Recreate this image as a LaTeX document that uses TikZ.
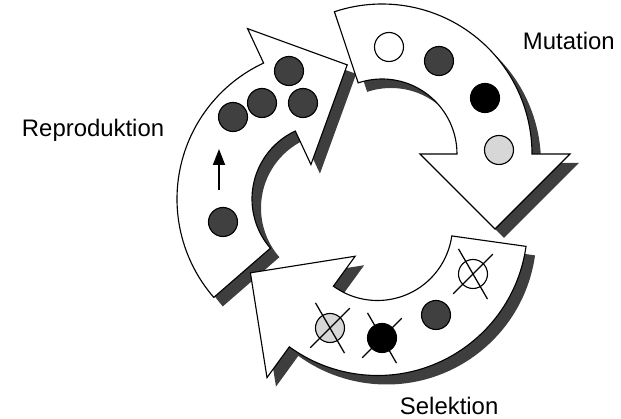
\documentclass[tikz,border=0pt]{standalone}
\usepackage{fontspec}
\setmainfont{Liberation Sans}
\usetikzlibrary{arrows.meta, calc}
\definecolor{shdgray}{RGB}{62, 62, 62}
\definecolor{dotdark}{RGB}{64, 64, 64}
\definecolor{dotlight}{RGB}{215, 215, 215}

% curved arrow of the cycle: options, centre, tail angle, head angle
\newcommand{\ringarrow}[4]{%
  \path[#1] ($(#2)+(#3:150)$) arc[start angle=#3, end angle=#4, radius=150]
    -- ($(#2)+(#4:188)$) -- ($(#2)+(#4:113)+(#4-90:75)$) -- ($(#2)+(#4:38)$)
    -- ($(#2)+(#4:75)$) arc[start angle=#4, end angle=#3, radius=75] -- cycle;}

\begin{document}
\begin{tikzpicture}[x=0.025cm, y=0.025cm,
  shd/.style={fill=shdgray, transform canvas={shift={(9,-9)}}},
  arw/.style={draw=black, fill=white, line width=0.8pt, line join=miter},
  dot/.style={circle, draw=black, line width=0.8pt, minimum size=0.725cm, inner sep=0pt},
  xln/.style={line width=0.9pt},
  lbl/.style={anchor=base west, font=\fontsize{17}{20}\selectfont}
]
  \useasboundingbox (0,0) rectangle (621,419);
  \coordinate (crep) at (327,220);
  \coordinate (cmut) at (382,265);
  \coordinate (csel) at (377.5,193.5);

  % shadows
  \ringarrow{shd}{crep}{221}{115}
  \ringarrow{shd}{cmut}{108.5}{0}
  \ringarrow{shd}{csel}{352}{234}
  % arrows
  \ringarrow{arw}{crep}{221}{115}
  \ringarrow{arw}{cmut}{108.5}{0}
  \ringarrow{arw}{csel}{352}{234}

  % Reproduktion
  \node[dot, fill=dotdark] (r1) at (289,348) {};
  \node[dot, fill=dotdark] (r2) at (262,316) {};
  \node[dot, fill=dotdark] (r3) at (303,316) {};
  \node[dot, fill=dotdark] (r4) at (233,302) {};
  \node[dot, fill=dotdark] (r5) at (223,197) {};
  \coordinate (up0) at (219,229);
  \coordinate (up1) at (219,270);
  \draw[line width=1.3pt, -{Triangle[length=4mm, width=3mm]}] (up0) -- (up1);

  % Mutation
  \node[dot, fill=white] (m1) at (389,372) {};
  \node[dot, fill=dotdark] (m2) at (439,358) {};
  \node[dot, fill=black] (m3) at (485,321) {};
  \node[dot, fill=dotlight] (m4) at (499,269) {};

  % Selektion
  \node[dot, fill=white] (s1) at (473,145) {};
  \node[dot, fill=dotdark] (s2) at (436,104) {};
  \node[dot, fill=black] (s3) at (382,81) {};
  \node[dot, fill=dotlight] (s4) at (330,91) {};
  \foreach \s in {s1, s3, s4} {
    \draw[xln] ($(\s)+(120:29)$) -- ($(\s)+(-60:29)$);
    \draw[xln] ($(\s)+(225:28)$) -- ($(\s)+(45:28)$);
  }

  \node[lbl] (trep) at (17,282) {Reproduktion};
  \node[lbl] (tmut) at (518,369) {Mutation};
  \node[lbl] (tsel) at (395,4) {Selektion};
\end{tikzpicture}
\end{document}
